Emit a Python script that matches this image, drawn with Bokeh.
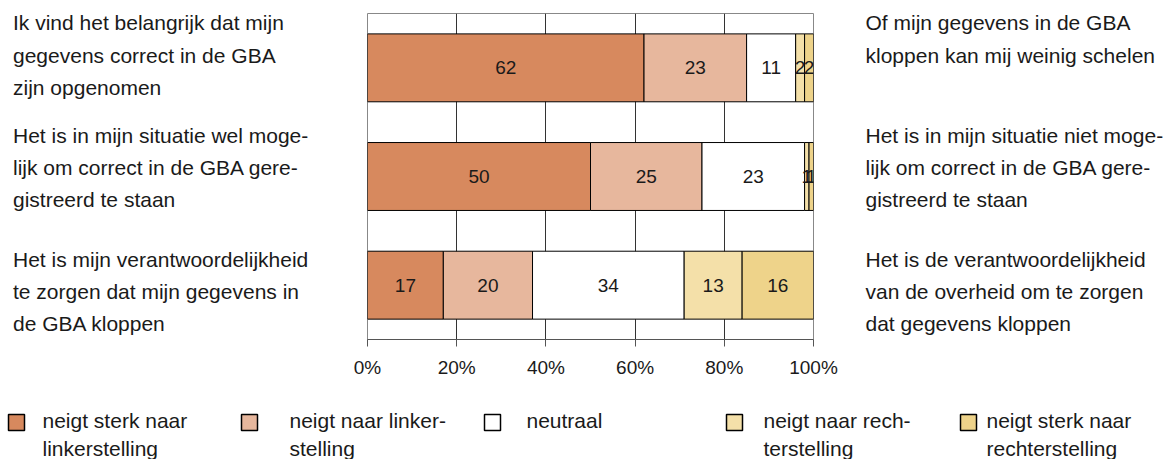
from bokeh.plotting import figure
from bokeh.layouts import row, column
from bokeh.models import (ColumnDataSource, FactorRange, Range1d, FixedTicker, LabelSet)
from bokeh.core.properties import value
from bokeh.embed import file_html
from bokeh.resources import INLINE

# ---------------- data ----------------
rows = ["stelling 1", "stelling 2", "stelling 3"]

left_texts = [
    ["Ik vind het belangrijk dat mijn", "gegevens correct in de GBA", "zijn opgenomen"],
    ["Het is in mijn situatie wel moge-", "lijk om correct in de GBA gere-", "gistreerd te staan"],
    ["Het is mijn verantwoordelijkheid", "te zorgen dat mijn gegevens in", "de GBA kloppen"],
]
right_texts = [
    ["Of mijn gegevens in de GBA", "kloppen kan mij weinig schelen"],
    ["Het is in mijn situatie niet moge-", "lijk om correct in de GBA gere-", "gistreerd te staan"],
    ["Het is de verantwoordelijkheid", "van de overheid om te zorgen", "dat gegevens kloppen"],
]

series_keys = ["sterk_links", "links", "neutraal", "rechts", "sterk_rechts"]
legend_lines = [
    ["neigt sterk naar", "linkerstelling"],
    ["neigt naar linker-", "stelling"],
    ["neutraal"],
    ["neigt naar rech-", "terstelling"],
    ["neigt sterk naar", "rechterstelling"],
]

sterk_links = [62, 50, 17]
links = [23, 25, 20]
neutraal = [11, 23, 34]
rechts = [2, 1, 13]
sterk_rechts = [2, 1, 16]

tick_values = [0, 20, 40, 60, 80, 100]
tick_labels = ["0%", "20%", "40%", "60%", "80%", "100%"]

colors = ["#D7895E", "#E7B79D", "#FFFFFF", "#F4E0A9", "#EED38A"]

# ---------------- layout (picture pixels) ----------------
TOTAL_W, TOTAL_H = 1169, 459
TOP_H = 392
LEFT_W = 340
CHART_W = 503
RIGHT_W = TOTAL_W - LEFT_W - CHART_W
FRAME_L, FRAME_R, FRAME_T, FRAME_B = 367, 813, 13, 339
FONT = "Liberation Sans"
TXT = "#1a1a1a"


def side(x0, x1):
    f = figure(width=x1 - x0, height=TOP_H, output_backend="svg", toolbar_location=None,
               x_range=Range1d(x0, x1), y_range=Range1d(FRAME_B, FRAME_T),
               x_axis_location=None, y_axis_location=None,
               min_border_left=0, min_border_right=0,
               min_border_top=FRAME_T, min_border_bottom=TOP_H - FRAME_B,
               outline_line_color=None)
    f.grid.visible = False
    return f


# ---------------- chart ----------------
source = ColumnDataSource(dict(
    row=rows, sterk_links=sterk_links, links=links, neutraal=neutraal,
    rechts=rechts, sterk_rechts=sterk_rechts))

p = figure(width=CHART_W, height=TOP_H, output_backend="svg", toolbar_location=None,
           x_range=Range1d(0, 100),
           y_range=FactorRange(factors=list(reversed(rows)), range_padding=0),
           y_axis_location=None,
           min_border_left=FRAME_L - LEFT_W,
           min_border_right=LEFT_W + CHART_W - FRAME_R,
           min_border_top=FRAME_T, min_border_bottom=TOP_H - FRAME_B)

p.hbar_stack(series_keys, y="row", height=0.625, color=colors, line_color="black",
             line_width=1, source=source)

lx, ly, lt = [], [], []
vals = [sterk_links, links, neutraal, rechts, sterk_rechts]
for i, r in enumerate(rows):
    cum = 0
    for s in vals:
        v = s[i]
        lx.append(cum + v / 2.0)
        ly.append(r)
        lt.append(str(v))
        cum += v
p.add_layout(LabelSet(x="x", y="y", text="t", source=ColumnDataSource(dict(x=lx, y=ly, t=lt)),
                      text_align="center", text_baseline="middle",
                      text_font=value(FONT), text_font_size="19px", text_color=TXT))

p.xaxis.ticker = FixedTicker(ticks=tick_values)
p.xaxis.major_label_overrides = {v: l for v, l in zip(tick_values, tick_labels)}
p.xaxis.major_label_text_font = FONT
p.xaxis.major_label_text_font_size = "19px"
p.xaxis.major_label_text_color = TXT
p.xaxis.major_tick_in = 0
p.xaxis.major_tick_out = 7
p.xaxis.minor_tick_line_color = None
p.xaxis.axis_line_color = "#555555"
p.xaxis.major_tick_line_color = "#555555"
p.xaxis.major_label_standoff = 10

p.ygrid.grid_line_color = None
p.xgrid.grid_line_color = "#333333"
p.xgrid.ticker = FixedTicker(ticks=tick_values)
p.outline_line_color = "#888888"

# ---------------- side texts ----------------
row_centers = [[22, 55, 87], [135, 167, 199], [259, 291, 323]]
right_centers = [[22, 55], [135, 167, 199], [259, 291, 323]]

left = side(0, LEFT_W)
right = side(LEFT_W + CHART_W, TOTAL_W)
lxs, lys, lts, rxs, rys, rts = [], [], [], [], [], []
for i in range(3):
    for k, line in enumerate(left_texts[i]):
        lxs.append(12.5); lys.append(row_centers[i][k]); lts.append(line)
    for k, line in enumerate(right_texts[i]):
        rxs.append(865); rys.append(right_centers[i][k]); rts.append(line)
left.text(x=lxs, y=lys, text=lts, text_font=value(FONT), text_font_size="21px",
          text_color=TXT, text_baseline="middle", text_align="left")
right.text(x=rxs, y=rys, text=rts, text_font=value(FONT), text_font_size="21px",
           text_color=TXT, text_baseline="middle", text_align="left")

# ---------------- legend ----------------
leg = figure(width=TOTAL_W, height=TOTAL_H - TOP_H, output_backend="svg", toolbar_location=None,
             x_range=Range1d(0, TOTAL_W), y_range=Range1d(TOTAL_H, TOP_H),
             x_axis_location=None, y_axis_location=None, min_border=0,
             outline_line_color=None)
leg.grid.visible = False
sq_x = [8, 241, 484, 726, 960]
tx_x = [42, 289, 526, 763, 986]
leg.scatter(x=[sx + 8 for sx in sq_x], y=[422] * 5, marker="square", size=16,
            fill_color=colors, line_color="black", line_width=1.5)
gx, gy, gt = [], [], []
for j in range(5):
    for k, line in enumerate(legend_lines[j]):
        gx.append(tx_x[j]); gy.append(420 + k * 28); gt.append(line)
leg.text(x=gx, y=gy, text=gt, text_font=value(FONT), text_font_size="21px",
         text_color=TXT, text_baseline="middle", text_align="left")

layout = column(row(left, p, right, spacing=0), leg, spacing=0)
open("out.html", "w").write(file_html(layout, INLINE))
